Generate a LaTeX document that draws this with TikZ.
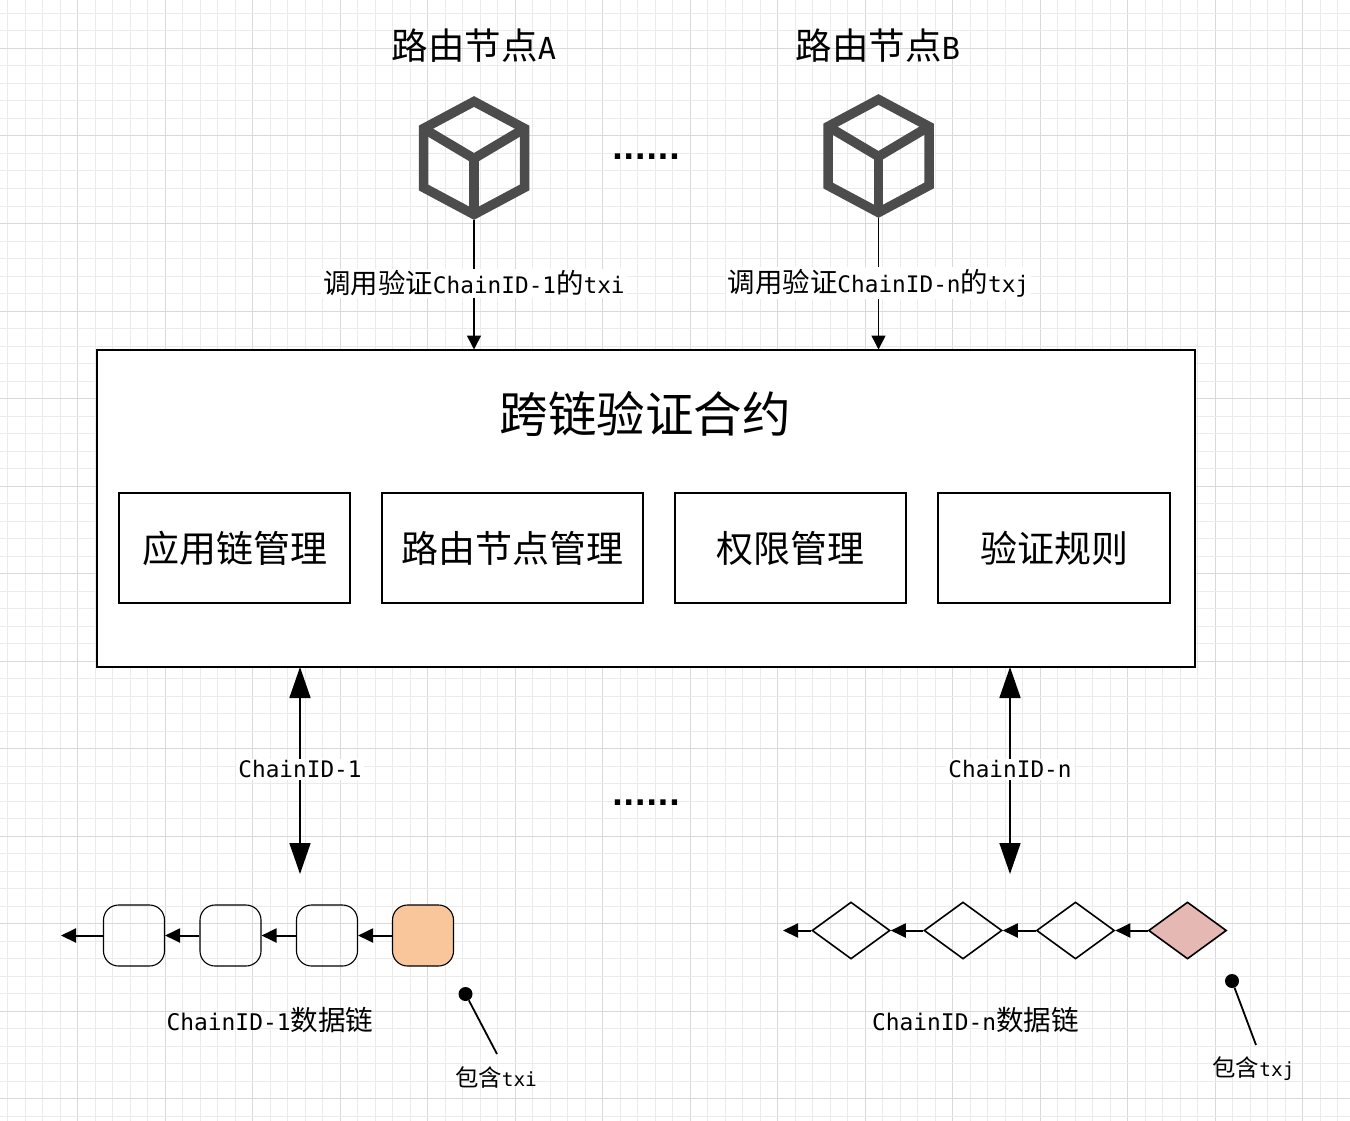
\documentclass[tikz,border=0pt]{standalone}
\usepackage{fontspec}
\usetikzlibrary{arrows.meta,shapes.geometric}
\newfontfamily\cjkf{Noto Sans CJK SC}
\newfontfamily\monof[Scale=0.83]{DejaVu Sans Mono}
\newfontfamily\dotf{DejaVu Sans Bold}
\newcommand\zh[1]{{\cjkf #1}}
\newcommand\la[1]{{\monof #1}}
\newcommand\fsz[1]{\fontsize{#1}{#1}\selectfont}
\tikzset{
  x=1pt,y=-1pt,
  gridminor/.style={draw=black!8,line width=1pt},
  gridmajor/.style={draw=black!15,line width=1pt},
  cubeline/.style={draw=black!70,line width=9.5pt,line join=miter},
  anchorbox/.style={minimum width=110pt,minimum height=125pt,inner sep=0pt},
  panel/.style={draw=black,line width=2pt,fill=white,inner sep=0pt,outer sep=0pt},
  modbox/.style={panel,minimum height=110pt,font=\fsz{37}\cjkf},
  conn/.style={draw=black,line width=1.6pt,-{Triangle[length=14pt,width=14pt]}},
  bigconn/.style={draw=black,line width=1.6pt,{Triangle[length=31pt,width=21pt]}-{Triangle[length=31pt,width=21pt]}},
  chainconn/.style={draw=black,line width=2pt,-{Triangle[length=15pt,width=14pt]}},
  lbl/.style={fill=white,inner sep=2pt,font=\fsz{27.4}},
  plainlbl/.style={inner sep=0pt,font=\fsz{27.6}},
  block/.style={draw=black,line width=1.1pt,rounded corners=15pt,minimum size=61pt,inner sep=0pt},
  gem/.style={diamond,draw=black,line width=1.6pt,aspect=1.36,minimum width=78pt,minimum height=57pt,inner sep=0pt},
  dots/.style={inner sep=0pt,anchor=base,font=\fsz{30}\dotf},
  dotnode/.style={circle,fill=black,draw=none,minimum size=14pt,inner sep=0pt},
  leader/.style={draw=black,line width=1.8pt},
}
\begin{document}
\begin{tikzpicture}
\useasboundingbox (0,0) rectangle (1350,1121);
\fill[white] (0,0) rectangle (1350,1121);
% background grid
\foreach \i in {0,...,77}{
  \pgfmathsetmacro\gx{7.5+17.5*\i}
  \pgfmathtruncatemacro\m{mod(\i,5)}
  \ifnum\m=4 \draw[gridmajor] (\gx,0) -- (\gx,1121); \else \draw[gridminor] (\gx,0) -- (\gx,1121); \fi
}
\foreach \i in {0,...,63}{
  \pgfmathsetmacro\gy{13.5+17.5*\i}
  \pgfmathtruncatemacro\m{mod(\i,5)}
  \ifnum\m=2 \draw[gridmajor] (0,\gy) -- (1350,\gy); \else \draw[gridminor] (0,\gy) -- (1350,\gy); \fi
}
% top titles
\node[inner sep=0pt,font=\fsz{36.5}] (titleA) at (474,46) {\zh{路由节点}\la{A}};
\node[inner sep=0pt,font=\fsz{36.5}] (titleB) at (878,46) {\zh{路由节点}\la{B}};
% cubes
\node[anchorbox] (cubeA) at (474,157.5) {};
\node[anchorbox] (cubeB) at (878.5,155.5) {};
\foreach \cx/\cy in {474/157.5,878.5/155.5}{
  \begin{scope}[shift={(\cx,\cy)}]
    \draw[cubeline] (0,-56) -- (50.5,-29) -- (50.5,30) -- (0,57) -- (-50.5,30) -- (-50.5,-29) -- cycle;
    \draw[cubeline,line join=bevel] (-50.5,-29) -- (0,1) -- (50.5,-29);
    \draw[cubeline] (0,1) -- (0,57);
  \end{scope}
}
\node[dots] (dotsTop) at (646,160) {......};
% contract
\node[panel,minimum width=1098pt,minimum height=317.5pt,anchor=north west] (contract) at (96.5,349.5) {};
\node[inner sep=0pt,font=\fsz{48.5}\cjkf] (ctitle) at (645,414) {跨链验证合约};
\node[modbox,minimum width=231pt] (m1) at (234.5,548) {\raisebox{1pt}{应用链管理}};
\node[modbox,minimum width=261pt] (m2) at (512.5,548) {\raisebox{1pt}{路由节点管理}};
\node[modbox,minimum width=231pt] (m3) at (790.5,548) {\raisebox{1pt}{权限管理}};
\node[modbox,minimum width=232pt] (m4) at (1054,548) {\raisebox{1pt}{验证规则}};
% node to contract
\draw[conn] (cubeA.south) -- (cubeA.south |- contract.north) node[midway,lbl,yshift=1.5pt] (la) {\zh{调用验证}\la{ChainID-1}\zh{的}\la{txi}};
\draw[conn] (cubeB.south) -- (cubeB.south |- contract.north) node[pos=0.485,lbl,yshift=-1pt] (lb) {\zh{调用验证}\la{ChainID-n}\zh{的}\la{txj}};
% chains
\node[block] (a1) at (134,935.5) {};
\node[block] (a2) at (230.5,935.5) {};
\node[block] (a3) at (327,935.5) {};
\node[block,fill={rgb,255:red,248;green,198;blue,154}] (a4) at (423,935.5) {};
\coordinate (aend) at (61,935.5);
\draw[chainconn] (a4) -- (a3);
\draw[chainconn] (a3) -- (a2);
\draw[chainconn] (a2) -- (a1);
\draw[chainconn] (a1) -- (aend);
\node[gem] (d1) at (851,930.5) {};
\node[gem] (d2) at (963,930.5) {};
\node[gem] (d3) at (1075.5,930.5) {};
\node[gem,fill={rgb,255:red,229;green,184;blue,180}] (d4) at (1187.5,930.5) {};
\coordinate (dend) at (783,930.5);
\draw[chainconn] (d4) -- (d3);
\draw[chainconn] (d3) -- (d2);
\draw[chainconn] (d2) -- (d1);
\draw[chainconn] (d1) -- (dend);
% contract to chains
\coordinate (ca) at (300,874);
\coordinate (cn) at (1010,874);
\draw[bigconn] (ca |- contract.south) -- (ca) node[pos=0.49,lbl,yshift=-1pt] (lc1) {\la{ChainID-1}};
\draw[bigconn] (cn |- contract.south) -- (cn) node[pos=0.49,lbl,yshift=-1pt] (lc2) {\la{ChainID-n}};
\node[dots] (dotsBot) at (646,805) {......};
% captions
\node[plainlbl] (cap1) at (270,1020) {\la{ChainID-1}\zh{数据链}};
\node[plainlbl] (cap2) at (975.5,1020) {\la{ChainID-n}\zh{数据链}};
% leaders
\node[dotnode] (p1) at (465.5,994) {};
\coordinate (q1) at (497,1054);
\draw[leader] (p1) -- (q1);
\node[inner sep=0pt,font=\fsz{23.4}] (t1) at (496,1078) {\zh{包含}\la{txi}};
\node[dotnode] (p2) at (1232,981) {};
\coordinate (q2) at (1256,1045);
\draw[leader] (p2) -- (q2);
\node[inner sep=0pt,font=\fsz{23.4}] (t2) at (1253.5,1069) {\zh{包含}\la{txj}};
\end{tikzpicture}
\end{document}
